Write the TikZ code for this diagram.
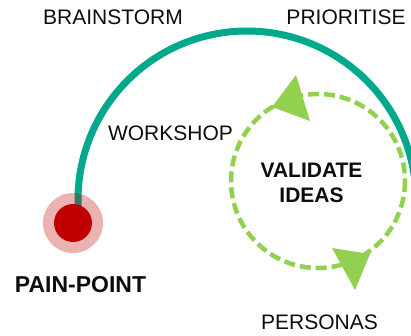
\documentclass[tikz,border=0pt]{standalone}
\usepackage{fontspec}
\setmainfont{Liberation Sans}
\usetikzlibrary{positioning}
\definecolor{pathteal}{RGB}{0,168,140}
\definecolor{ideagreen}{RGB}{146,208,80}
\definecolor{painred}{RGB}{192,0,0}
\tikzstyle{word} = [inner sep=0pt, anchor=base, text=black!95, font=\fontsize{21}{25}\selectfont]
\tikzstyle{boldword} = [word, font=\bfseries\fontsize{21}{25}\selectfont]
\tikzstyle{journey} = [pathteal, line width=7pt]
\tikzstyle{loop} = [ideagreen, line width=4.5pt, dash pattern=on 11pt off 5pt]

\begin{document}
\begin{tikzpicture}[x=1pt,y=-1pt]
      \useasboundingbox (0,0) rectangle (411,335);
      \clip (0,0) rectangle (411,335);
      \coordinate (hub) at (247,200);
      \coordinate (vc) at (318,181);
      \coordinate (pp) at (73,223);
      % big arc
      \draw[journey] (hub) ++(176:169) arc[start angle=176, end angle=365, radius=169];
      % validate loop
      \draw[loop] (vc) circle[radius=87];
      \fill[ideagreen] (296,75) -- (272,107) -- (310,121) -- cycle;
      \fill[ideagreen] (332,248) -- (370,254) -- (355,290) -- cycle;
      % pain point
      \fill[painred, opacity=0.3] (pp) circle[radius=30];
      \fill[painred] (pp) circle[radius=19];
      \node[word] (brainstorm) at (113,24.5) {BRAINSTORM};
      \node[word] (prioritise) at (346,24.5) {PRIORITISE};
      \node[word] (workshop) at (170.5,140) {WORKSHOP};
      \node[word] (personas) at (319.5,329) {PERSONAS};
      \node[boldword, font=\bfseries\fontsize{23}{27}\selectfont] (painpoint) at (80.5,292) {PAIN-POINT};
      \node[boldword, anchor=center, align=center] (validate) at (311.5,183) {VALIDATE\\IDEAS};
\end{tikzpicture}
\end{document}
